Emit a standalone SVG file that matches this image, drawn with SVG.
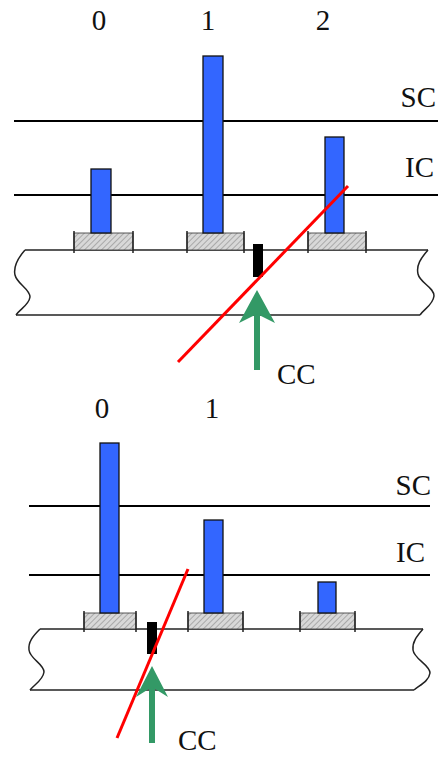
<svg xmlns="http://www.w3.org/2000/svg" width="438" height="758" viewBox="0 0 438 758">
<defs>
<pattern id="hatch" patternUnits="userSpaceOnUse" width="4" height="4" patternTransform="rotate(45)">
<rect width="4" height="4" fill="#d8d8d8"/>
<line x1="0" y1="0" x2="0" y2="4" stroke="#9a9a9a" stroke-width="1.5"/>
</pattern>
</defs>
<style>
.t{font-family:"Liberation Serif","Times New Roman",serif;font-size:29px;fill:#111}
.lvl{stroke:#000;stroke-width:2.2;fill:none}
.slab{stroke:#222;stroke-width:1.5;fill:none}
.bar{fill:#3366ff;stroke:#111;stroke-width:1.3}
.pad{fill:url(#hatch);stroke:#333;stroke-width:0.8}
.tick{stroke:#222;stroke-width:1.5}
.rl{stroke:#ff0000;stroke-width:3}
.gr{stroke:#339966;stroke-width:6;fill:none}
.ah{fill:#339966}
.mk{fill:#000}
</style>

<g id="top-panel">
<g id="top-labels">
<text class="t" x="99" y="30" text-anchor="middle">0</text>
<text class="t" x="208" y="30" text-anchor="middle">1</text>
<text class="t" x="323" y="30" text-anchor="middle">2</text>
<text class="t" x="436" y="107" text-anchor="end">SC</text>
<text class="t" x="434" y="177" text-anchor="end">IC</text>
</g>
<g id="top-levels">
<line class="lvl" x1="14" y1="121" x2="438" y2="121"/>
<line class="lvl" x1="14" y1="195" x2="438" y2="195"/>
</g>
<g id="top-slab">
<path class="slab" d="M25,250 L428,250"/>
<path class="slab" d="M16,315 L420,315"/>
<path class="slab" d="M25,250 C18,258 13,266 15,275 C17,284 30,289 30,297 C29,305 20,309 16,315"/>
<path class="slab" d="M428,250 C421,258 416,265 418,274 C420,283 434,287 434,296 C433,305 424,309 420,315"/>
</g>
<g id="top-pads">
<rect class="pad" x="74" y="233" width="59" height="17"/>
<rect class="pad" x="187" y="233" width="57" height="17"/>
<rect class="pad" x="308" y="233" width="58" height="17"/>
<path class="tick" d="M74,231V253M133,231V253M187,231V253M244,231V253M308,231V253M366,231V253"/>
</g>
<g id="top-bars">
<rect class="bar" x="91" y="169" width="20" height="64"/>
<rect class="bar" x="203" y="56" width="20" height="177"/>
<rect class="bar" x="325" y="137" width="19" height="96"/>
</g>
<rect id="top-marker" class="mk" x="253" y="244" width="10" height="33"/>
<line id="top-red" class="rl" x1="178" y1="362" x2="348" y2="186"/>
<g id="top-arrow">
<line class="gr" x1="257" y1="370" x2="257" y2="312"/>
<path class="ah" d="M257,290 L275,323 L257,314 L239,323 Z"/>
</g>
<text class="t" x="277" y="384">CC</text>
</g>

<g id="bottom-panel">
<g id="bottom-labels">
<text class="t" x="102" y="418" text-anchor="middle">0</text>
<text class="t" x="212" y="418" text-anchor="middle">1</text>
<text class="t" x="431" y="495" text-anchor="end">SC</text>
<text class="t" x="425" y="562" text-anchor="end">IC</text>
</g>
<g id="bottom-levels">
<line class="lvl" x1="29" y1="506" x2="430" y2="506"/>
<line class="lvl" x1="29" y1="575" x2="430" y2="575"/>
</g>
<g id="bottom-slab">
<path class="slab" d="M40,629 L423,629"/>
<path class="slab" d="M30,690 L414,690"/>
<path class="slab" d="M40,629 C33,636 28,642 29,650 C30,659 44,664 44,672 C43,680 35,684 30,690"/>
<path class="slab" d="M423,629 C417,636 412,642 413,650 C414,659 430,665 430,673 C429,681 420,685 414,690"/>
</g>
<g id="bottom-pads">
<rect class="pad" x="84" y="613" width="52" height="16"/>
<rect class="pad" x="188" y="613" width="55" height="16"/>
<rect class="pad" x="300" y="613" width="55" height="16"/>
<path class="tick" d="M84,611V632M136,611V632M188,611V632M243,611V632M300,611V632M355,611V632"/>
</g>
<g id="bottom-bars">
<rect class="bar" x="100" y="443" width="19" height="170"/>
<rect class="bar" x="204" y="520" width="19" height="93"/>
<rect class="bar" x="318" y="582" width="18" height="31"/>
</g>
<rect id="bottom-marker" class="mk" x="147" y="622" width="10" height="32"/>
<line id="bottom-red" class="rl" x1="117" y1="738" x2="188" y2="569"/>
<g id="bottom-arrow">
<line class="gr" x1="152" y1="743" x2="152" y2="686"/>
<path class="ah" d="M152,666 L168,697 L152,687 L136,697 Z"/>
</g>
<text class="t" x="178" y="750">CC</text>
</g>
</svg>
